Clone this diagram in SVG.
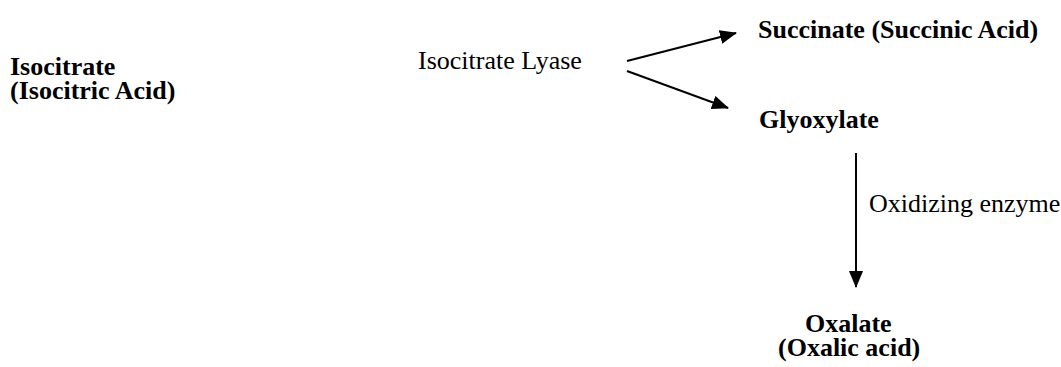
<svg xmlns="http://www.w3.org/2000/svg" width="1061" height="367" viewBox="0 0 1061 367">
<style>
.t{font-family:"Liberation Serif","Times New Roman",serif;font-size:26px;fill:#000}
.b{font-weight:bold}
.c{stroke:#000;stroke-width:2;fill:none}
</style>
<defs>
<marker id="ah" markerWidth="17" markerHeight="14" refX="16" refY="7" orient="auto" markerUnits="userSpaceOnUse">
<path d="M0,0 L17,7 L0,14 Z" fill="#000"/>
</marker>
</defs>
<rect width="1061" height="367" fill="#fff"/>
<g id="isocitrate"><text class="t b" x="10" y="75">Isocitrate</text><text class="t b" x="10" y="99">(Isocitric Acid)</text></g>
<g id="lyase"><text class="t" x="418" y="69">Isocitrate Lyase</text></g>
<g id="succinate"><text class="t b" x="758" y="38">Succinate (Succinic Acid)</text></g>
<g id="glyoxylate"><text class="t b" x="759" y="128">Glyoxylate</text></g>
<g id="enzyme"><text class="t" x="869" y="212">Oxidizing enzyme</text></g>
<g id="oxalate"><text class="t b" x="805" y="332">Oxalate</text><text class="t b" x="778" y="356">(Oxalic acid)</text></g>
<g id="connectors">
<line class="c" x1="627" y1="61" x2="736" y2="33" marker-end="url(#ah)"/>
<line class="c" x1="627" y1="71" x2="728" y2="108" marker-end="url(#ah)"/>
<line class="c" x1="856" y1="153" x2="856" y2="287" marker-end="url(#ah)"/>
</g>
</svg>
